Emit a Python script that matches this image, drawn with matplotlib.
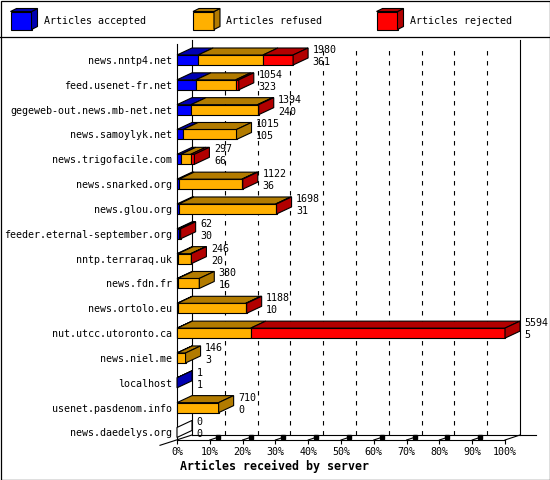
import matplotlib
matplotlib.use("Agg")
import matplotlib.pyplot as plt
from matplotlib.patches import Polygon, Rectangle

# articles received per server
servers = ["news.nntp4.net", "feed.usenet-fr.net", "gegeweb-out.news.mb-net.net",
           "news.samoylyk.net", "news.trigofacile.com", "news.snarked.org",
           "news.glou.org", "feeder.eternal-september.org", "nntp.terraraq.uk",
           "news.fdn.fr", "news.ortolo.eu", "nut.utcc.utoronto.ca", "news.niel.me",
           "localhost", "usenet.pasdenom.info", "news.daedelys.org"]
totals = [1980, 1054, 1394, 1015, 297, 1122, 1698, 62, 246, 380, 1188, 5594, 146, 1, 710, 0]
accepted = [361, 323, 240, 105, 66, 36, 31, 30, 20, 16, 10, 5, 3, 1, 0, 0]
refused = [1105, 678, 1134, 910, 168, 1071, 1652, 12, 216, 364, 1163, 1252, 143, 0, 710, 0]
rejected = [514, 53, 20, 0, 63, 15, 15, 20, 10, 0, 15, 4337, 0, 0, 0, 0]
pct_labels = ["0%", "10%", "20%", "30%", "40%", "50%", "60%", "70%", "80%", "90%", "100%"]
series = ["Articles accepted", "Articles refused", "Articles rejected"]

colors = ["#0000ff", "#ffb000", "#ff0000"]
darks = ["#0000b2", "#b27b00", "#b20000"]
MONO = "DejaVu Sans Mono"
FS = 7.2

W, H = 550, 480
x0px, x1px = 177, 505
ytop_px, yfloor_px = 44, 440
row0_px, step_px = 60, 24.83
xmax = max(totals)
n = len(servers)


def dx(p):
    return p * xmax / (x1px - x0px)


def dy(p):
    return p / step_px


fig = plt.figure(figsize=(W / 100, H / 100), dpi=100)

# overlay in pixel coords: border + legend
ov = fig.add_axes([0, 0, 1, 1], zorder=0)
ov.set_xlim(0, W)
ov.set_ylim(H, 0)
ov.axis("off")
ov.add_patch(Rectangle((0.5, 0.5), W - 1, H - 1, fill=False, lw=0.9, ec="black"))
ov.plot([0, W], [36.5, 36.5], color="black", lw=0.9)
for lx, c, d, lab in zip([10.5, 193, 376.5], colors, darks, series):
    ov.add_patch(Rectangle((lx, 11.5), 21, 18, fc=c, ec="black", lw=0.8))
    ov.add_patch(Polygon([(lx + 21, 29.5), (lx + 21, 11.5), (lx + 27, 8.5), (lx + 27, 26.5)],
                         fc=d, ec="black", lw=0.8))
    ov.add_patch(Polygon([(lx, 11.5), (lx + 21, 11.5), (lx + 27, 8.5), (lx + 6, 8.5)],
                         fc=d, ec="black", lw=0.8))
    ov.text(lx + 33.5, 21, lab, family=MONO, fontsize=FS, va="center", ha="left")

ax = fig.add_axes([x0px / W, 1 - yfloor_px / H, (x1px - x0px) / W, (yfloor_px - ytop_px) / H],
                  zorder=1)
ax.patch.set_visible(False)
yb = (n - 1) + (yfloor_px - (row0_px + (n - 1) * step_px)) / step_px
yt = -(row0_px - ytop_px) / step_px
ax.set_xlim(0, xmax)
ax.set_ylim(yb, yt)

# 3d frame: back wall, right wall, floor, dashed grid
lk = dict(color="black", lw=0.8, clip_on=False, zorder=1)
fdx, fdy = dx(15), dy(5)
yback = yb - fdy
ywall = yt - dy(4)
ax.plot([fdx, fdx], [yback, ywall], **lk)
ax.plot([xmax + fdx, xmax + fdx], [yback, ywall], **lk)
ax.plot([fdx, xmax + fdx + dx(16)], [yback, yback], **lk)
ax.plot([-dx(17), fdx], [yb + dy(5.3), yback], **lk)
ax.plot([xmax, xmax + fdx], [yb, yback], **lk)
for k in range(1, 10):
    xk = k * xmax / 10
    ax.plot([xk + fdx, xk + fdx], [yback, ywall + dy(10)], color="black", lw=0.8,
            ls=(0, (4, 5)), clip_on=False, zorder=1)
    ax.plot([xk, xk + dx(8)], [yb, yb - dy(8 / 3)], **lk)
    ax.plot([xk + dx(8)], [yb - dy(8 / 3)], marker="s", ms=2.2, color="black",
            clip_on=False, zorder=1)

# bars
bh = dy(5)
bdx, bdy = dx(15), dy(7)
for i in range(n):
    left = 0
    last = None
    for v, c, d in zip([accepted[i], refused[i], rejected[i]], colors, darks):
        if v <= 0:
            continue
        ax.add_patch(Rectangle((left, i - bh), v, 2 * bh, fc=c, ec="black", lw=0.8,
                               clip_on=False, zorder=3))
        ax.add_patch(Polygon([(left, i - bh), (left + v, i - bh),
                              (left + v + bdx, i - bh - bdy), (left + bdx, i - bh - bdy)],
                             fc=d, ec="black", lw=0.8, clip_on=False, zorder=3))
        left += v
        last = d
    ax.add_patch(Polygon([(left, i + bh), (left, i - bh),
                          (left + bdx, i - bh - bdy), (left + bdx, i + bh - bdy)],
                         fc=last if last else "white", ec="black", lw=0.8,
                         clip_on=False, zorder=3))
    ax.annotate(str(totals[i]), xy=(totals[i] + bdx, i), xytext=(4.5, 10),
                textcoords="offset pixels", va="center", ha="left",
                family=MONO, fontsize=FS, zorder=4, annotation_clip=False)
    ax.annotate(str(accepted[i]), xy=(totals[i] + bdx, i), xytext=(4.5, -2),
                textcoords="offset pixels", va="center", ha="left",
                family=MONO, fontsize=FS, zorder=4, annotation_clip=False)

ax.set_yticks(range(n))
ax.set_yticklabels(servers, family=MONO, fontsize=FS)
ax.set_xticks([k * xmax / 10 for k in range(11)])
ax.set_xticklabels(pct_labels, family=MONO, fontsize=FS)
ax.tick_params(axis="y", length=0, pad=3.6)
ax.tick_params(axis="x", length=2.9, width=0.8, pad=2.2, direction="out")
for s in ["top", "right"]:
    ax.spines[s].set_visible(False)
for s in ["left", "bottom"]:
    ax.spines[s].set_linewidth(0.8)

fig.text(180 / W, 1 - 466.5 / H, "Articles received by server", family=MONO,
         fontsize=8.4, fontweight="bold", ha="left", va="center")

fig.savefig("out.png", dpi=100)
